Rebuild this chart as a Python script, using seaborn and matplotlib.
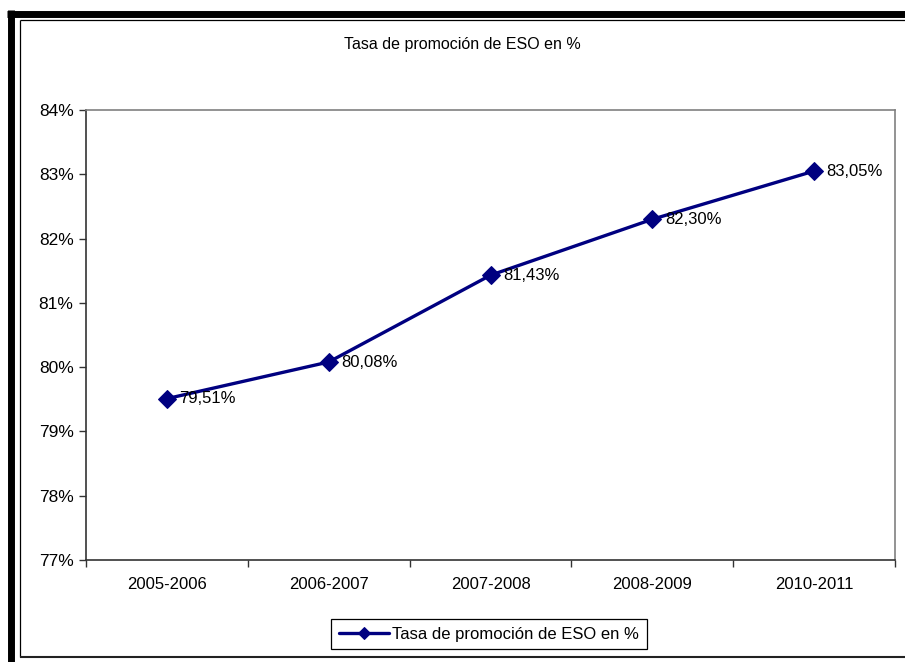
import matplotlib
matplotlib.use("Agg")
import matplotlib.pyplot as plt
import seaborn as sns
import pandas as pd
from matplotlib.lines import Line2D
from matplotlib.ticker import FuncFormatter, FixedLocator

# data
cursos = ["2005-2006", "2006-2007", "2007-2008", "2008-2009", "2010-2011"]
tasa = [79.51, 80.08, 81.43, 82.30, 83.05]
etiquetas = ["79,51%", "80,08%", "81,43%", "82,30%", "83,05%"]
serie = "Tasa de promoción de ESO en %"

df = pd.DataFrame({"curso": cursos, "tasa": tasa})

sns.set_style("white")
plt.rcParams["font.family"] = ["Liberation Sans", "DejaVu Sans"]
plt.rcParams["text.color"] = "black"
plt.rcParams["xtick.color"] = "black"
plt.rcParams["ytick.color"] = "black"

W, H = 905, 662
fig = plt.figure(figsize=(W / 100, H / 100), dpi=100)
ax = fig.add_axes([86 / W, 1 - 560 / H, (895 - 86) / W, (560 - 110) / H])

sns.lineplot(data=df, x="curso", y="tasa", ax=ax, color="#000080",
             linewidth=2.4, marker="D", markersize=9.5, markeredgecolor="#000080",
             label=serie, sort=False)

for i, (v, t) in enumerate(zip(tasa, etiquetas)):
    ax.annotate(t, (i, v), xytext=(9, 0), textcoords="offset points",
                ha="left", va="center", fontsize=12, color="black")

ax.set_xlim(-0.5, len(cursos) - 0.5)
ax.set_ylim(77, 84)
ax.yaxis.set_major_locator(FixedLocator(range(77, 85)))
ax.yaxis.set_major_formatter(FuncFormatter(lambda v, p: f"{v:.0f}%"))
ax.set_xticks(range(len(cursos)))
ax.set_xticklabels(cursos)
ax.xaxis.set_minor_locator(FixedLocator([i - 0.5 for i in range(len(cursos) + 1)]))
ax.tick_params(axis="x", which="major", bottom=False, length=0, pad=12, labelsize=12)
ax.tick_params(axis="x", which="minor", bottom=True, length=5, width=1,
               color="#333333", direction="out")
ax.tick_params(axis="y", left=True, length=5, width=1, color="#333333",
               direction="out", pad=4, labelsize=12.5)
ax.set_xlabel("")
ax.set_ylabel("")
ax.grid(False)

for s in ["left", "bottom"]:
    ax.spines[s].set_color("#333333")
    ax.spines[s].set_linewidth(1.2)
for s in ["top", "right"]:
    ax.spines[s].set_color("#808080")
    ax.spines[s].set_linewidth(1.2)

fig.text(462 / W, 1 - 45 / H, serie, ha="center", va="center", fontsize=11.5)

leg = ax.legend(loc="center", bbox_to_anchor=(489 / W, 1 - 634 / H),
                bbox_transform=fig.transFigure, fontsize=12, frameon=True,
                fancybox=False, framealpha=1, edgecolor="black",
                handlelength=3.0, handletextpad=0.2, borderpad=0.45)
leg.get_frame().set_linewidth(0.9)
leg.legend_handles[0].set_markersize(6)

# frame lines around the chart (thick outer, thin inner)
def fx(x):
    return x / W

def fy(y):
    return 1 - y / H

lines = [
    ([7, W], [13.5, 13.5], "black", 5.0),
    ([10.5, 10.5], [10, H], "black", 5.0),
    ([19.5, W], [20, 20], "black", 0.9),
    ([19.5, 19.5], [20, 657], "black", 0.9),
    ([19.5, W], [657, 657], "#222222", 1.5),
]
for xs, ys, c, lw in lines:
    fig.add_artist(Line2D([fx(x) for x in xs], [fy(y) for y in ys], color=c, lw=lw,
                          solid_capstyle="butt", transform=fig.transFigure))

fig.savefig("out.png", dpi=100)
